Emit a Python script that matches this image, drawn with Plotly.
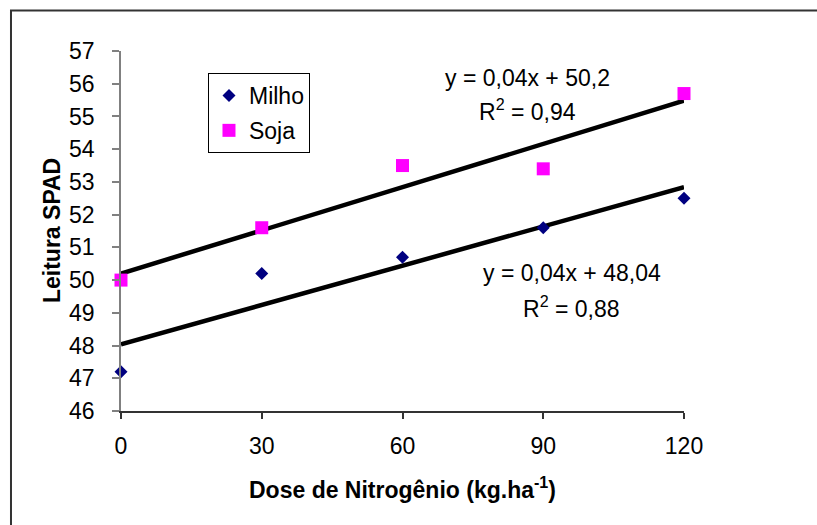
import numpy as np
import plotly.graph_objects as go

doses = [0, 30, 60, 90, 120]
milho = [47.2, 50.2, 50.7, 51.6, 52.5]
soja = [50.0, 51.6, 53.5, 53.4, 55.7]
y_ticks = list(range(46, 58))
x_ticks = [0, 30, 60, 90, 120]
eq_soja = ["y = 0,04x + 50,2", "R<sup>2</sup> = 0,94"]
eq_milho = ["y = 0,04x + 48,04", "R<sup>2</sup> = 0,88"]

FONT = "Liberation Sans, Arial, sans-serif"
FS = 23

fig = go.Figure()

x_fit = np.array([min(doses), max(doses)])
for vals in (soja, milho):
    coef = np.polyfit(doses, vals, 1)
    fig.add_trace(go.Scatter(x=x_fit, y=np.polyval(coef, x_fit), mode="lines",
                             line=dict(color="black", width=4.5), showlegend=False,
                             hoverinfo="skip", cliponaxis=False))

fig.add_trace(go.Scatter(x=doses, y=milho, mode="markers", name="Milho",
                         legendgroup="a",
                         marker=dict(symbol="diamond", size=10, color="#000080"),
                         cliponaxis=False))
fig.add_trace(go.Scatter(x=doses, y=soja, mode="markers", name="Soja",
                         legendgroup="b",
                         marker=dict(symbol="square", size=13, color="#FF00FF"),
                         cliponaxis=False))

fig.update_layout(
    width=817, height=525,
    margin=dict(l=121, r=133, t=51, b=114),
    paper_bgcolor="white", plot_bgcolor="white",
    font=dict(family=FONT, size=FS, color="black"),
    showlegend=True,
    legend=dict(x=0.1545, y=0.9389, xanchor="left", yanchor="top",
                bgcolor="white", bordercolor="black", borderwidth=1,
                traceorder="grouped", tracegroupgap=2,
                font=dict(family=FONT, size=FS, color="black"),
                itemwidth=30),
    xaxis=dict(range=[0, 120], tickvals=x_ticks, showgrid=False, zeroline=False,
               showline=True, linecolor="#333333", linewidth=1.5,
               ticks="outside", ticklen=6, tickcolor="#333333", tickwidth=1.5,
               tickfont=dict(family=FONT, size=FS), ticklabelstandoff=8),
    yaxis=dict(range=[46, 57], tickvals=y_ticks, showgrid=False, zeroline=False,
               showline=True, linecolor="#808080", linewidth=1.5,
               ticks="outside", ticklen=7, tickcolor="#808080", tickwidth=1.5,
               tickfont=dict(family=FONT, size=FS), ticklabelstandoff=13),
)

annots = [
    (eq_soja[0], 0.7229, 0.925), (eq_soja[1], 0.7229, 0.836),
    (eq_milho[0], 0.801, 0.3833), (eq_milho[1], 0.801, 0.2889),
]
for t, x, y in annots:
    fig.add_annotation(text=t, x=x, y=y, xref="paper", yref="paper",
                       showarrow=False, xanchor="center", yanchor="middle",
                       font=dict(family=FONT, size=FS, color="black"))

fig.add_annotation(text="<b>Leitura SPAD</b>", x=-0.1225, y=0.5, xref="paper", yref="paper",
                   showarrow=False, textangle=-90, xanchor="center", yanchor="middle",
                   font=dict(family=FONT, size=FS, color="black"))
fig.add_annotation(text="<b>Dose de Nitrogênio (kg.ha<sup>-1</sup>)</b>", x=0.5, y=-0.215,
                   xref="paper", yref="paper", showarrow=False,
                   xanchor="center", yanchor="middle",
                   font=dict(family=FONT, size=FS, color="black"))

fig.add_shape(type="rect", xref="paper", yref="paper",
              x0=-0.1954, x1=1.3, y0=-0.4, y1=1.1125,
              line=dict(color="#333333", width=2), fillcolor="rgba(0,0,0,0)", layer="below")

fig.write_html("out.html")
